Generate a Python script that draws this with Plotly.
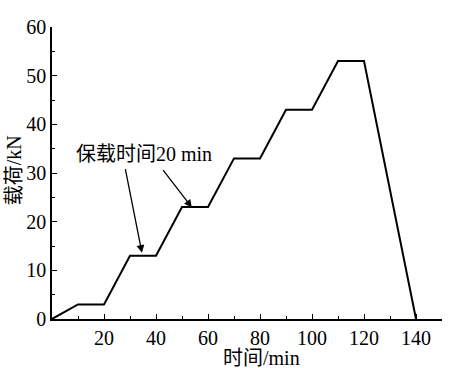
import plotly.graph_objects as go

time_min = [0, 10, 20, 30, 40, 50, 60, 70, 80, 90, 100, 110, 120, 140]
load_kn = [0, 3, 3, 13, 13, 23, 23, 33, 33, 43, 43, 53, 53, 0]

x_tickvals = [0, 20, 40, 60, 80, 100, 120, 140]
x_ticktext = ["", "20", "40", "60", "80", "100", "120", "140"]
x_minor = [10, 30, 50, 70, 90, 110, 130, 150]
y_tickvals = [0, 10, 20, 30, 40, 50, 60]
y_minor = [5, 15, 25, 35, 45, 55]

note_text = "保载时间20 min"
x_title = "时间/min"
y_title = "载荷/kN"

FONT = "Liberation Serif, Noto Sans CJK SC"

fig = go.Figure()
fig.add_trace(go.Scatter(x=time_min, y=load_kn, mode="lines",
                         line=dict(color="black", width=2), showlegend=False,
                         cliponaxis=False))

axis_common = dict(showline=True, linecolor="black", linewidth=1.5, mirror=False,
                   showgrid=False, zeroline=False, ticks="inside", ticklen=5,
                   tickwidth=1.2, tickcolor="black", automargin=False,
                   tickfont=dict(family=FONT, size=20, color="black"))

fig.update_xaxes(range=[0, 150], tickmode="array", tickvals=x_tickvals, ticktext=x_ticktext,
                 minor=dict(ticks="inside", ticklen=3, tickvals=x_minor, tickcolor="black", tickwidth=1.2),
                 **axis_common)
fig.update_yaxes(range=[0, 60], tickmode="array", tickvals=y_tickvals,
                 minor=dict(ticks="inside", ticklen=3, tickvals=y_minor, tickcolor="black", tickwidth=1.2),
                 **axis_common)

# arrows
fig.add_annotation(x=34.6, y=13.6, ax=28.1, ay=31.1, xref="x", yref="y", axref="x", ayref="y",
                   text="", showarrow=True, arrowhead=2, arrowsize=1.2, arrowwidth=1.3,
                   arrowcolor="black")
fig.add_annotation(x=53.8, y=22.9, ax=42.3, ay=30.9, xref="x", yref="y", axref="x", ayref="y",
                   text="", showarrow=True, arrowhead=2, arrowsize=1.2, arrowwidth=1.3,
                   arrowcolor="black")
fig.add_annotation(x=35.4, y=34.0, xref="x", yref="y", text=note_text, showarrow=False,
                   font=dict(family=FONT, size=20, color="black"))

# axis titles
fig.add_annotation(x=0.538, y=-0.135, xref="paper", yref="paper", text=x_title, showarrow=False,
                   xanchor="center", yanchor="middle",
                   font=dict(family=FONT, size=20, color="black"))
fig.add_annotation(x=-0.097, y=0.51, xref="paper", yref="paper", text=y_title, showarrow=False,
                   textangle=-90, xanchor="center", yanchor="middle",
                   font=dict(family=FONT, size=20, color="black"))

fig.update_layout(width=450, height=368, margin=dict(l=52, r=8, t=27, b=49, autoexpand=False),
                  plot_bgcolor="white", paper_bgcolor="white")

fig.write_html("out.html", config={"displayModeBar": False},
               post_script="document.body.style.margin='0';document.body.style.overflow='hidden';")
